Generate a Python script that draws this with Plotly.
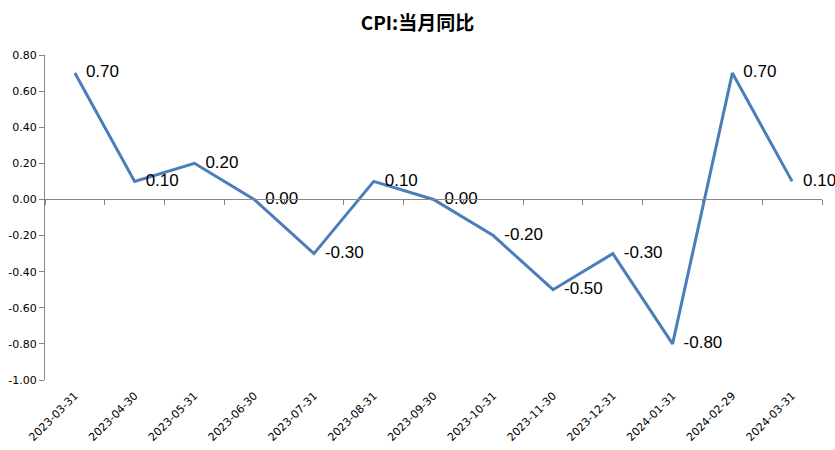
import plotly.graph_objects as go

dates = ["2023-03-31", "2023-04-30", "2023-05-31", "2023-06-30", "2023-07-31",
         "2023-08-31", "2023-09-30", "2023-10-31", "2023-11-30", "2023-12-31",
         "2024-01-31", "2024-02-29", "2024-03-31"]
cpi = [0.70, 0.10, 0.20, 0.00, -0.30, 0.10, 0.00, -0.20, -0.50, -0.30, -0.80, 0.70, 0.10]
y_ticks = [0.80, 0.60, 0.40, 0.20, 0.00, -0.20, -0.40, -0.60, -0.80, -1.00]

y_min, y_max = -1.0, 0.8
n = len(dates)
axis_gray = "#868686"

fig = go.Figure()
fig.add_trace(go.Scatter(
    x=list(range(n)), y=cpi, mode="lines+markers+text",
    line=dict(color="#4A7EBB", width=3),
    marker=dict(size=16, color="rgba(0,0,0,0)"),
    text=[f"{v:.2f}" for v in cpi],
    textposition="middle right",
    textfont=dict(family="Liberation Sans, Arial", size=17, color="#000000"),
    cliponaxis=False, showlegend=False, hoverinfo="x+y",
))
# empty trace so the zero-crossing category axis is drawn
fig.add_trace(go.Scatter(x=[None], y=[None], xaxis="x2", yaxis="y",
                         showlegend=False, hoverinfo="skip"))

fig.update_layout(
    width=835, height=450,
    margin=dict(l=45, r=13, t=55, b=70),
    paper_bgcolor="white", plot_bgcolor="white",
    title=dict(text="<b>CPI:当月同比</b>", x=0.5, xanchor="center", y=0.948, yanchor="middle",
               font=dict(family="Noto Sans CJK SC", size=19, color="#000000")),
    xaxis=dict(
        range=[-0.5, n - 0.5], tickmode="array", tickvals=list(range(n)), ticktext=dates,
        tickangle=-45, showline=False, showgrid=False, zeroline=False, automargin=False,
        ticks="outside", ticklen=4, tickcolor="rgba(0,0,0,0)",
        tickfont=dict(family="DejaVu Sans", size=11, color="#000000"),
    ),
    xaxis2=dict(
        overlaying="x", anchor="free", position=(0 - y_min) / (y_max - y_min),
        range=[-0.5, n - 0.5], tickmode="array",
        tickvals=[i - 0.5 for i in range(n + 1)], automargin=False,
        showticklabels=False, ticks="outside", ticklen=5, tickcolor=axis_gray,
        showline=True, linecolor=axis_gray, linewidth=1, showgrid=False, zeroline=False,
    ),
    yaxis=dict(
        range=[y_min, y_max], tickmode="array", tickvals=y_ticks,
        ticktext=[f"{v:.2f}" for v in y_ticks], automargin=False,
        showline=True, linecolor=axis_gray, linewidth=1, ticks="outside", ticklen=5,
        tickcolor=axis_gray, showgrid=False, zeroline=False,
        tickfont=dict(family="DejaVu Sans", size=11, color="#000000"),
    ),
)

fig.write_html("out.html", config={"displayModeBar": False},
               post_script="document.body.style.margin='0';")
